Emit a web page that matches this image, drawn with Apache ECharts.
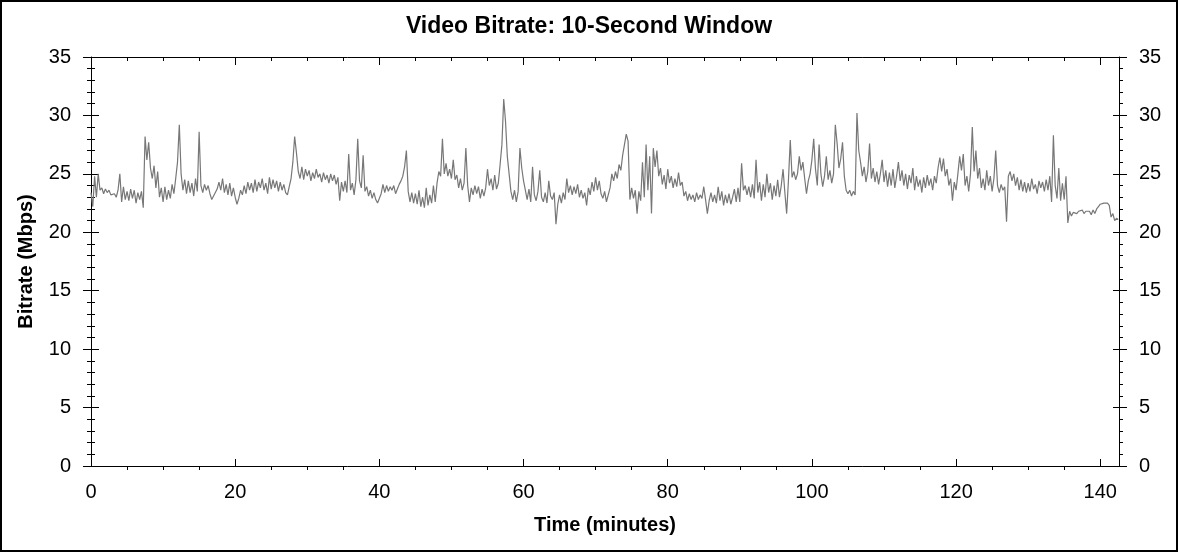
<!DOCTYPE html>
<html>
<head>
<meta charset="utf-8">
<script src="https://cdn.jsdelivr.net/npm/echarts@6/dist/echarts.min.js"></script>
<style>
html,body{margin:0;padding:0;background:#fff;}
#chart{width:1178px;height:552px;}
</style>
</head>
<body>
<div id="chart"></div>
<script>
// ---- data ----
const chartTitle = 'Video Bitrate: 10-Second Window';
const xAxisName = 'Time (minutes)';
const yAxisName = 'Bitrate (Mbps)';
const sampleStepMin = 0.25;           // one value every 15 s of playback
const xMaxMin = 142.6;
const xMajorTicks = [0, 20, 40, 60, 80, 100, 120, 140];
const xMinorTicks = [5, 10, 15, 25, 30, 35, 45, 50, 55, 65, 70, 75, 85, 90, 95, 105, 110, 115, 125, 130, 135];
const yMajorTicks = [0, 5, 10, 15, 20, 25, 30, 35];
const yMinorTicks = [1,2,3,4,6,7,8,9,11,12,13,14,16,17,18,19,21,22,23,24,26,27,28,29,31,32,33,34];
const bitrateMbps = [
  23.4,22.2,24.8,23.0,25.0,23.6,23.8,23.3,23.7,23.4,23.6,23.2,23.1,23.3,23.0,23.6,25.0,22.6,23.9,22.8,
  23.5,22.7,23.7,22.9,23.6,22.5,23.4,22.8,23.5,22.1,28.2,26.2,27.7,25.5,24.6,25.7,23.8,25.2,23.0,23.8,
  22.6,23.9,22.8,23.6,22.9,24.1,23.3,24.6,26.0,29.2,25.0,23.6,24.5,23.3,24.4,23.4,24.2,23.1,24.6,23.5,
  28.6,24.0,23.4,24.1,23.6,24.0,23.3,22.8,22.7,23.4,23.7,24.3,23.6,24.6,23.4,24.1,23.2,24.2,23.1,23.8,
  23.0,22.4,22.9,23.6,23.2,24.0,23.3,24.3,23.6,24.2,23.4,24.5,23.5,24.3,23.8,24.6,23.6,24.2,23.3,24.7,
  23.7,24.5,23.8,24.4,23.5,24.3,23.6,24.1,23.4,23.2,23.9,24.6,26.0,28.2,26.8,25.2,24.6,25.6,24.5,25.4,
  24.8,25.3,24.4,25.1,24.6,25.4,24.7,25.0,24.3,25.1,24.5,24.9,24.2,25.0,24.4,24.9,24.1,24.7,22.7,24.3,
  23.5,24.4,23.4,26.7,23.6,24.2,23.2,24.5,28.0,24.4,23.8,26.6,23.5,23.9,23.1,23.6,22.9,23.4,22.8,22.5,
  22.4,23.3,24.1,23.4,24.0,23.5,23.9,23.6,24.0,23.3,23.7,24.1,24.4,24.8,25.6,27.0,23.5,22.6,23.4,22.5,
  23.3,22.4,23.6,22.2,23.0,22.1,23.8,22.3,23.2,22.5,24.0,22.6,24.2,25.2,24.8,28.0,25.0,25.9,24.8,25.4,
  24.6,26.2,24.5,24.9,23.8,24.6,23.6,24.2,27.2,24.0,22.6,23.8,23.2,24.0,23.3,23.9,22.9,23.7,23.1,23.8,
  25.4,24.0,24.6,23.6,24.9,23.7,24.2,25.8,27.5,31.4,29.5,26.5,25.0,23.5,22.8,23.6,22.6,23.5,27.2,25.5,
  24.4,23.6,22.8,23.7,22.6,25.6,23.2,22.7,23.5,25.3,23.0,22.6,23.4,22.5,24.4,23.1,22.8,23.4,20.7,22.4,
  23.2,22.5,23.4,22.8,24.6,23.4,24.0,23.2,23.9,23.3,24.1,23.0,23.6,22.9,23.4,22.3,23.8,23.2,24.3,23.5,
  24.7,23.6,24.4,23.3,22.9,23.5,22.6,23.2,23.8,25.0,24.4,25.2,24.6,25.8,25.3,26.6,27.5,28.4,27.8,22.8,
  23.8,22.9,23.6,21.6,23.5,22.7,26.0,23.0,27.5,23.6,26.5,21.6,27.2,25.6,27.0,24.8,25.5,24.1,24.9,23.7,
  25.4,24.2,24.8,23.8,24.6,23.9,25.1,24.0,24.3,23.1,23.5,22.7,23.3,22.8,23.2,22.6,23.4,22.8,23.2,22.9,
  23.9,22.8,21.6,22.7,23.4,22.6,23.2,22.5,23.9,22.7,23.5,22.3,23.2,22.5,23.3,22.4,23.0,23.7,22.6,23.8,
  22.6,25.9,23.6,24.0,23.2,23.9,23.0,24.1,22.9,26.2,23.4,24.3,22.7,24.1,23.0,25.0,23.4,24.2,22.8,24.0,
  23.1,24.5,23.0,24.0,25.4,23.4,21.6,24.5,27.9,24.7,25.2,24.5,25.0,26.5,25.3,26.0,24.6,23.3,24.4,25.0,
  26.2,28.0,25.4,24.0,27.5,25.0,23.9,24.8,26.5,24.5,25.3,24.2,25.0,29.2,27.6,25.5,26.3,27.7,24.8,23.6,
  23.3,23.6,23.1,23.5,23.2,30.2,27.0,26.0,24.8,25.6,24.3,25.2,27.6,24.6,25.5,24.3,25.2,24.1,25.0,26.2,
  24.3,25.3,23.9,25.1,24.0,25.4,23.8,24.8,26.0,24.4,25.3,24.0,25.0,23.7,24.9,24.2,25.5,23.6,24.8,23.9,
  24.5,23.4,24.7,23.8,24.9,24.0,24.6,23.6,24.8,24.2,25.5,26.4,25.2,26.3,24.8,25.4,24.0,24.6,22.7,24.3,
  23.6,25.0,26.5,25.3,26.7,24.0,24.8,23.5,25.0,29.0,25.2,27.0,24.6,25.5,23.8,24.6,23.6,25.3,24.0,24.8,
  23.5,24.6,27.0,24.0,23.4,24.1,23.6,23.9,20.9,24.8,25.2,24.4,25.0,24.0,24.7,23.6,24.5,23.5,24.3,23.4,
  24.2,23.5,24.6,23.7,24.1,23.3,24.4,23.8,24.3,23.5,24.5,23.6,24.8,22.6,28.3,24.0,22.9,25.5,22.7,24.2,
  22.8,24.8,20.8,21.8,21.4,21.7,21.8,21.6,21.8,21.7,21.9,21.6,21.8,21.7,21.8,21.5,21.9,21.6,22.0,22.2,
  22.4,22.3,22.5,22.4,22.5,22.3,21.3,21.6,21.0,21.2,21.1
];

// ---- chart ----
const FONT = '"Liberation Sans", Arial, sans-serif';
const seriesData = bitrateMbps.map((v, i) => [i * sampleStepMin, v]);

function xAx(pos, ticks, inside, len, showLine, showLabels) {
  return {
    type: 'value', position: pos, min: 0, max: xMaxMin,
    axisLine: { show: showLine, onZero: false, lineStyle: { color: '#000', width: 1 } },
    axisTick: { show: true, inside: inside, length: len, customValues: ticks, lineStyle: { color: '#000', width: 1 } },
    axisLabel: showLabels ? { show: true, customValues: xMajorTicks, margin: 16, color: '#000', fontFamily: FONT, fontSize: 20 } : { show: false },
    splitLine: { show: false },
    name: showLabels ? xAxisName : '',
    nameLocation: 'middle', nameGap: 49,
    nameTextStyle: { fontFamily: FONT, fontSize: 20, fontWeight: 'bold', color: '#000' }
  };
}
function yAx(pos, ticks, inside, len, showLine, labels, withName) {
  return {
    type: 'value', position: pos, min: 0, max: 35,
    axisLine: { show: showLine, onZero: false, lineStyle: { color: '#000', width: 1 } },
    axisTick: { show: true, inside: inside, length: len, customValues: ticks, lineStyle: { color: '#000', width: 1 } },
    axisLabel: labels ? { show: true, customValues: yMajorTicks, margin: 20, color: '#000', fontFamily: FONT, fontSize: 20 } : { show: false },
    splitLine: { show: false },
    name: withName ? yAxisName : '',
    nameLocation: 'middle', nameGap: 55, nameRotate: 90,
    nameTextStyle: { fontFamily: FONT, fontSize: 20, fontWeight: 'bold', color: '#000' }
  };
}

const chart = echarts.init(document.getElementById('chart'), null, { renderer: 'canvas' });
chart.setOption({
  animation: false,
  backgroundColor: '#fff',
  title: {
    text: chartTitle, left: 'center', top: 15, padding: 0,
    textStyle: { fontFamily: FONT, fontSize: 23, fontWeight: 'bold', color: '#000' }
  },
  graphic: [{
    type: 'rect', silent: true, z: 100,
    shape: { x: 1, y: 1, width: 1176, height: 550 },
    style: { fill: null, stroke: '#000', lineWidth: 2 }
  }],
  grid: { left: 91, right: 59, top: 57, bottom: 86, containLabel: false },
  xAxis: [
    xAx('bottom', xMajorTicks, true, 7, true, true),
    xAx('bottom', xMinorTicks, false, 4, false, false),
    xAx('top', xMajorTicks, true, 8, true, false),
    xAx('top', xMinorTicks, true, 4, false, false)
  ],
  yAxis: [
    yAx('left', yMajorTicks, false, 8, true, true, true),
    yAx('left', yMajorTicks, true, 8, false, false, false),
    yAx('left', yMinorTicks, false, 4, false, false, false),
    yAx('left', yMinorTicks, true, 4, false, false, false),
    yAx('right', yMajorTicks, true, 6, true, true, false),
    yAx('right', yMajorTicks, false, 8, false, false, false),
    yAx('right', yMinorTicks, false, 4, false, false, false)
  ],
  series: [{
    type: 'line', xAxisIndex: 0, yAxisIndex: 0,
    data: seriesData, showSymbol: false, symbol: 'none',
    lineStyle: { color: '#777777', width: 1.2 },
    emphasis: { disabled: true }
  }]
});
</script>
</body>
</html>
